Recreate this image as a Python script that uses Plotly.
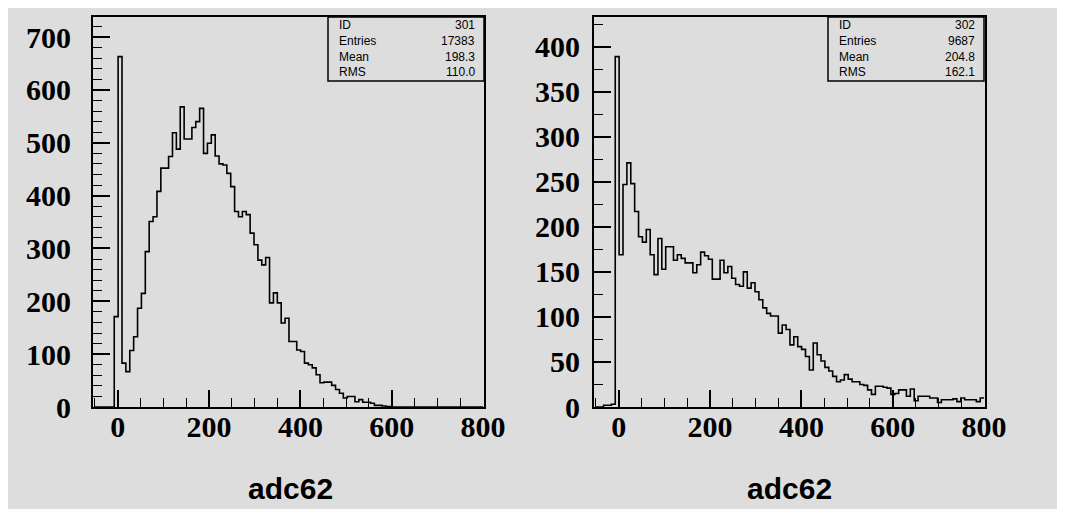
import numpy as np
import plotly.graph_objects as go

# ---------------- data ----------------
bin_lo = -50.0
bin_w = 8.5
n_bins = 100

left_counts = [0, 0, 0, 0, 0, 171, 663, 83, 67, 107,
               133, 187, 215, 294, 351, 360, 408, 452, 452, 474,
               519, 488, 568, 507, 507, 529, 540, 565, 480, 499,
               515, 475, 460, 458, 442, 417, 370, 360, 370, 364,
               329, 307, 278, 269, 283, 197, 216, 197, 159, 168,
               124, 124, 108, 105, 83, 80, 74, 61, 46, 47,
               47, 41, 33, 26, 17, 20, 20, 10, 14, 9,
               9, 7, 3, 3, 2, 1]
left_counts = left_counts + [0] * (n_bins - len(left_counts))

right_counts = [0, 0, 2, 2, 3, 389, 169, 247, 271, 248,
                217, 189, 183, 197, 169, 147, 187, 153, 178, 178,
                163, 169, 165, 160, 160, 149, 158, 172, 168, 164,
                142, 142, 163, 149, 156, 143, 136, 134, 150, 132,
                138, 128, 119, 110, 104, 101, 101, 82, 91, 86,
                69, 78, 67, 64, 56, 41, 71, 58, 51, 44,
                40, 34, 28, 30, 36, 31, 28, 28, 25, 24,
                19, 14, 23, 23, 22, 21, 14, 15, 19, 19,
                12, 20, 7, 12, 12, 12, 10, 10, 5, 8,
                8, 8, 9, 6, 10, 8, 8, 8, 6, 10]

x_title = "adc62"
left_stats = [("ID", "301"), ("Entries", "17383"), ("Mean", "198.3"), ("RMS", "110.0")]
right_stats = [("ID", "302"), ("Entries", "9687"), ("Mean", "204.8"), ("RMS", "162.1")]

x_range = [-54, 802]
left_yrange = [0, 738]
right_yrange = [0, 433]

# ---------------- layout helpers ----------------
# page body has an 8px margin; the figure fills the rest of the 1065x517 window
OFF = 8
W, H = 1065 - 2 * OFF, 517 - 2 * OFF
GREY = "rgb(221,221,221)"


def px(sx):
    return (sx - OFF) / W


def py(sy):
    return 1 - (sy - OFF) / H


edges = bin_lo + bin_w * np.arange(n_bins + 1)

fig = go.Figure()
for counts, xa, ya in [(left_counts, "x", "y"), (right_counts, "x2", "y2")]:
    fig.add_trace(go.Scatter(
        x=edges, y=list(counts) + [counts[-1]],
        mode="lines", line=dict(shape="hv", color="black", width=1.6),
        xaxis=xa, yaxis=ya, showlegend=False, hoverinfo="skip"))

tickfont = dict(family="Liberation Serif", size=30, color="black", weight="bold")

common_x = dict(
    range=x_range, tickmode="linear", tick0=0, dtick=200,
    ticks="inside", ticklen=17, tickwidth=1.5, tickcolor="black",
    minor=dict(tick0=0, dtick=50, ticks="inside", ticklen=9, tickwidth=1, tickcolor="black"),
    showgrid=False, zeroline=False, showline=True, mirror=True,
    linecolor="black", linewidth=2, tickfont=tickfont, ticklabelstandoff=-8,
    automargin=False,
)

common_y = dict(
    tickmode="linear", tick0=0,
    ticks="inside", ticklen=17, tickwidth=1.5, tickcolor="black",
    showgrid=False, zeroline=False, showline=True, mirror=True,
    linecolor="black", linewidth=2, tickfont=tickfont, automargin=False,
)

yd = [py(407), py(17)]
fig.update_layout(
    width=W, height=H,
    margin=dict(l=0, r=0, t=0, b=0, pad=0, autoexpand=False),
    showlegend=False,
    paper_bgcolor=GREY, plot_bgcolor=GREY,
    xaxis=dict(domain=[px(93), px(484)], anchor="y", **common_x),
    xaxis2=dict(domain=[px(594), px(985)], anchor="y2", **common_x),
    yaxis=dict(domain=yd, anchor="x", range=left_yrange, dtick=100,
               minor=dict(tick0=0, dtick=20, ticks="inside", ticklen=9, tickwidth=1, tickcolor="black"),
               ticklabelstandoff=14, **common_y),
    yaxis2=dict(domain=yd, anchor="x2", range=right_yrange, dtick=50,
                minor=dict(tick0=0, dtick=25, ticks="inside", ticklen=9, tickwidth=1, tickcolor="black"),
                ticklabelstandoff=6, **common_y),
)

shapes = []
annotations = []
stat_font = dict(family="Liberation Sans", size=12, color="black")
for stats, bx0, bx1 in [(left_stats, 328, 484), (right_stats, 828, 984)]:
    shapes.append(dict(type="rect", xref="paper", yref="paper",
                       x0=px(bx0), x1=px(bx1), y0=py(81), y1=py(17),
                       line=dict(color="black", width=1.5), fillcolor="rgba(0,0,0,0)"))
    for i, (k, v) in enumerate(stats):
        yc = 25 + i * 15.8
        annotations.append(dict(xref="paper", yref="paper", x=px(bx0 + 9), y=py(yc),
                                text=k, showarrow=False, xanchor="left", yanchor="middle",
                                font=stat_font))
        annotations.append(dict(xref="paper", yref="paper", x=px(bx1 - 7), y=py(yc),
                                text=v, showarrow=False, xanchor="right", yanchor="middle",
                                font=stat_font))

for xc in [290, 789]:
    annotations.append(dict(xref="paper", yref="paper", x=px(xc), y=py(488),
                            text=x_title, showarrow=False, xanchor="center", yanchor="middle",
                            font=dict(family="Liberation Sans", size=30, color="black", weight="bold")))

fig.update_layout(shapes=shapes, annotations=annotations)
fig.write_html("out.html")
